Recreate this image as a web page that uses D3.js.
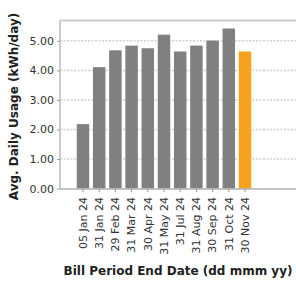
<!DOCTYPE html>
<html><head><meta charset="utf-8">
<script src="https://cdn.jsdelivr.net/npm/d3@7"></script>
<style>body{margin:0;background:#fff}svg{display:block}text{font-family:"DejaVu Sans",sans-serif}</style>
</head><body><svg id="c" width="296" height="284"></svg>
<script>
const categories = ["05 Jan 24","31 Jan 24","29 Feb 24","31 Mar 24","30 Apr 24","31 May 24","31 Jul 24","31 Aug 24","30 Sep 24","31 Oct 24","30 Nov 24"];
const usage = [2.18, 4.11, 4.68, 4.84, 4.75, 5.21, 4.64, 4.84, 5.01, 5.42, 4.64];
const highlight = [false,false,false,false,false,false,false,false,false,false,true];
const yTicks = [0,1,2,3,4,5];

const svg = d3.select("#c");
const L = 60, R = 296, T = 20.5, B = 188.5;
const x = d3.scaleBand().domain(categories).range([74.9, 253.1]).paddingInner(0.23).paddingOuter(0.115);
const y = d3.scaleLinear().domain([0, 5.69]).range([B, T]);

// grid
svg.append("g").selectAll("line").data(yTicks.filter(d=>d>0)).join("line")
  .attr("x1", L).attr("x2", R).attr("y1", d=>y(d)).attr("y2", d=>y(d))
  .attr("stroke", "#d0d0d0").attr("stroke-width", 1.5).attr("stroke-dasharray", "2,1.5");

// frame top
svg.append("line").attr("x1", L).attr("x2", R).attr("y1", T).attr("y2", T).attr("stroke", "#cccccc").attr("stroke-width", 2);

// bars
svg.append("g").selectAll("rect").data(categories).join("rect")
  .attr("x", d=>x(d)).attr("width", x.bandwidth())
  .attr("y", (d,i)=>y(usage[i])).attr("height", (d,i)=>B - y(usage[i]))
  .attr("fill", (d,i)=>highlight[i] ? "#f7a21e" : "#808080");

// y axis
const ya = svg.append("g").attr("transform", `translate(${L},0)`)
  .call(d3.axisLeft(y).tickValues(yTicks).tickFormat(d3.format(".2f")).tickSize(3).tickPadding(3));
ya.select(".domain").attr("stroke", "#cccccc").attr("stroke-width", 2).attr("d", `M0,${T}V${B}`);
ya.selectAll(".tick line").attr("stroke", "#999");
ya.selectAll("text").attr("fill", "#333").style("font-size", "11px").style("font-family", "DejaVu Sans");

// x axis
const xa = svg.append("g").attr("transform", `translate(0,${B+0.5})`)
  .call(d3.axisBottom(x).tickSize(3).tickPadding(2));
xa.select(".domain").attr("stroke", "#b0b0b0").attr("stroke-width", 1.5).attr("d", `M${L},0H${R}`);
xa.selectAll(".tick line").attr("stroke", "#999");
xa.selectAll("text").attr("fill", "#333").style("font-size", "11px").style("font-family", "DejaVu Sans")
  .attr("text-anchor", "end").attr("dy", "0.35em").attr("transform", "rotate(-90)").attr("x", -8).attr("y", 0);

// titles
svg.append("text").attr("transform", `translate(18,${(T+B)/2+2}) rotate(-90)`)
  .attr("text-anchor", "middle").attr("font-weight", "bold").attr("font-size", "12px").attr("fill", "#222")
  .text("Avg. Daily Usage (kWh/day)");
svg.append("text").attr("x", (L+R)/2).attr("y", 274.5)
  .attr("text-anchor", "middle").attr("font-weight", "bold").attr("font-size", "12px").attr("fill", "#222")
  .text("Bill Period End Date (dd mmm yy)");
</script></body></html>
